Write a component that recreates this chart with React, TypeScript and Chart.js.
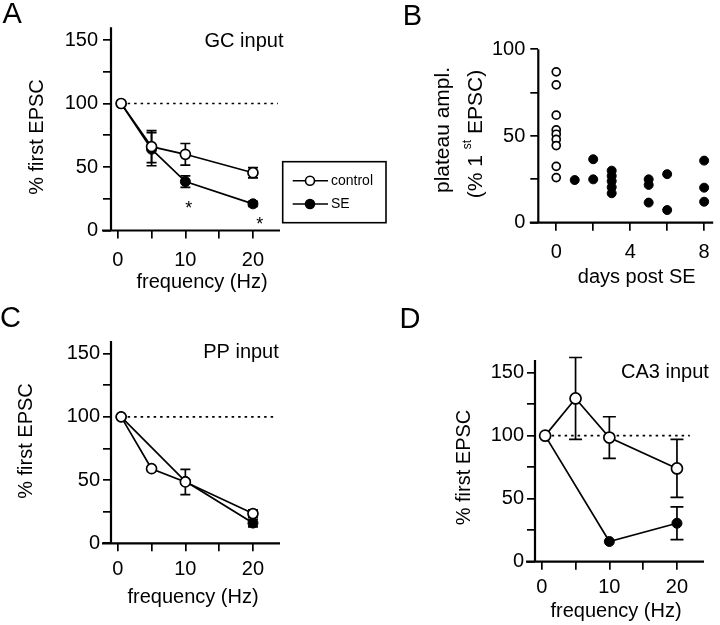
import React, { useEffect, useRef } from 'react';
import { Chart, registerables } from 'chart.js';

Chart.register(...registerables);

const FONT = "'Liberation Sans', Arial, Helvetica, sans-serif";
const W = 720;
const H = 625;

// ---------- shared axes ----------
const FREQ = [0.5, 5, 10, 20];
const FREQ_TICKS = [0, 5, 10, 15, 20];
const FREQ_LABELS = [0, 10, 20];
const EPSC_TICKS = [0, 25, 50, 75, 100, 125, 150];
const EPSC_LABELS = [0, 50, 100, 150];
const DAY_TICKS = [0, 2, 4, 6, 8];
const DAY_LABELS = [0, 4, 8];
const PLATEAU_TICKS = [0, 25, 50, 75, 100];
const PLATEAU_LABELS = [0, 50, 100];
const REF_LEVEL = 100;
const LEGEND_LABELS = ['control', 'SE'];

// ---------- panel A: GC input ----------
const A_CONTROL = [100, 66, 60, 45.5];
const A_CONTROL_ERR = [0, 12.6, 8.5, 4];
const A_SE = [100, 64, 38.5, 21];
const A_SE_ERR = [0, 13, 4.5, 2];
const A_REF_X = [0.5, 23.7];
const A_STAR_X = [10.5, 21];
const A_STAR_Y = [21.5, 8.5];

// ---------- panel B: plateau amplitude vs days ----------
const B_CONTROL_DAYS = [0, 0, 0, 0, 0, 0, 0, 0, 0];
const B_CONTROL_VALUES = [87, 79.5, 62, 53.5, 51, 48, 44.5, 32.5, 26];
const B_SE_DAYS = [1, 2, 2, 3, 3, 3, 3, 3, 5, 5, 5, 6, 6, 8, 8, 8];
const B_SE_VALUES = [24.6, 36.6, 25, 30, 27, 24, 20.5, 17, 25, 21.8, 11.6, 28, 7.3, 35.8, 20.2, 12.1];

// ---------- panel C: PP input ----------
const C_CONTROL = [100, 59, 48.5, 23.5];
const C_CONTROL_ERR = [0, 0, 10, 3];
const C_SE_FREQ = [0.5, 10, 20];
const C_SE = [100, 49, 16];
const C_SE_ERR = [0, 0, 3];
const C_REF_X = [0.5, 23.3];

// ---------- panel D: CA3 input ----------
const D_CONTROL = [100, 129.5, 98.5, 74];
const D_CONTROL_ERR = [0, 32.5, 16.5, 23];
const D_SE_FREQ = [0.5, 10, 20];
const D_SE = [100, 16, 30.5];
const D_SE_ERR = [0, 0, 13];
const D_REF_X = [0.5, 21.9];

// ---------- helpers ----------
const pts = (xs: number[], ys: number[]) => xs.map((x, i) => ({ x, y: ys[i] }));

function series(label: string, xs: number[], ys: number[], filled: boolean, radius: number, showLine = true) {
  return {
    label,
    data: pts(xs, ys),
    showLine,
    borderColor: '#000',
    borderWidth: 1.7,
    tension: 0,
    fill: false,
    pointRadius: radius,
    pointHoverRadius: radius,
    pointStyle: 'circle',
    pointBackgroundColor: filled ? '#000' : '#fff',
    pointBorderColor: '#000',
    pointBorderWidth: filled ? 1 : 1.7,
    clip: false,
  };
}

function refLine(xs: number[]) {
  return {
    label: 'ref',
    data: pts(xs, xs.map(() => REF_LEVEL)),
    showLine: true,
    borderColor: '#000',
    borderWidth: 1.6,
    borderDash: [2.5, 4],
    pointRadius: 0,
    pointHoverRadius: 0,
    fill: false,
    clip: false,
  };
}

type TextPart = { text: string; size: number; rise: number };
type Txt = { text?: string; parts?: TextPart[]; x: number; y: number; size: number; align?: string; rotate?: boolean };

const FREQ_TITLE = 'frequency (Hz)';
const EPSC_TITLE = '% first EPSC';

const PANELS: any[] = [
  {
    area: { left: 111, top: 27.3, right: 280, bottom: 230.5 },
    axisExt: 9,
    x: { min: -1, max: 24, ticks: FREQ_TICKS, labels: FREQ_LABELS, pad: 10 },
    y: { min: 0, max: 160, ticks: EPSC_TICKS, labels: EPSC_LABELS, pad: 5 },
    datasets: () => [
      series(LEGEND_LABELS[0], FREQ, A_CONTROL, false, 5),
      series(LEGEND_LABELS[1], FREQ, A_SE, true, 5),
      refLine(A_REF_X),
    ],
    errors: [
      { xs: FREQ, ys: A_CONTROL, errs: A_CONTROL_ERR, cap: 5 },
      { xs: FREQ, ys: A_SE, errs: A_SE_ERR, cap: 5 },
    ],
    stars: { xs: A_STAR_X, ys: A_STAR_Y, size: 18 },
    texts: [
      { text: 'A', x: 2.5, y: 23.3, size: 29, align: 'left' },
      { text: 'GC input', x: 244, y: 46.7, size: 20 },
      { text: EPSC_TITLE, x: 43, y: 137, size: 20, rotate: true },
      { text: FREQ_TITLE, x: 202, y: 288, size: 20 },
    ],
    legend: { left: 282.7, top: 161.7, right: 386, bottom: 222.7, rowY: [180.7, 204], lineX0: 292.7, lineX1: 328, cx: 310, textX: 331, size: 14 },
  },
  {
    area: { left: 538.3, top: 49.3, right: 718, bottom: 222.7 },
    axisExt: 8.5,
    x: { min: -0.97, max: 8.49, ticks: DAY_TICKS, labels: DAY_LABELS, pad: 10 },
    y: { min: 0, max: 100, ticks: PLATEAU_TICKS, labels: PLATEAU_LABELS, pad: 5 },
    datasets: () => [
      series('control', B_CONTROL_DAYS, B_CONTROL_VALUES, false, 4, false),
      series('SE', B_SE_DAYS, B_SE_VALUES, true, 4.5, false),
    ],
    errors: [],
    texts: [
      { text: 'B', x: 402.7, y: 25, size: 29, align: 'left' },
      { text: 'plateau ampl.', x: 449, y: 130, size: 21, rotate: true },
      {
        parts: [
          { text: '(% 1 ', size: 21, rise: 0 },
          { text: 'st', size: 12, rise: 11 },
          { text: ' EPSC)', size: 21, rise: 0 },
        ],
        x: 482, y: 134, size: 21, rotate: true,
      },
      { text: 'days post SE', x: 636.7, y: 282.5, size: 20 },
    ],
  },
  {
    area: { left: 111, top: 341, right: 280, bottom: 543.3 },
    axisExt: 9,
    x: { min: -1, max: 24, ticks: FREQ_TICKS, labels: FREQ_LABELS, pad: 6 },
    y: { min: 0, max: 160, ticks: EPSC_TICKS, labels: EPSC_LABELS, pad: 3 },
    datasets: () => [
      series('control', FREQ, C_CONTROL, false, 5),
      series('SE', C_SE_FREQ, C_SE, true, 5),
      refLine(C_REF_X),
    ],
    errors: [
      { xs: FREQ, ys: C_CONTROL, errs: C_CONTROL_ERR, cap: 5 },
      { xs: C_SE_FREQ, ys: C_SE, errs: C_SE_ERR, cap: 5 },
    ],
    texts: [
      { text: 'C', x: 0, y: 326.7, size: 29, align: 'left' },
      { text: 'PP input', x: 241, y: 358.3, size: 20 },
      { text: EPSC_TITLE, x: 31.5, y: 441, size: 20, rotate: true },
      { text: FREQ_TITLE, x: 193, y: 603.3, size: 20 },
    ],
  },
  {
    area: { left: 535, top: 360, right: 704, bottom: 561.7 },
    axisExt: 9,
    x: { min: -1, max: 24, ticks: FREQ_TICKS, labels: FREQ_LABELS, pad: 6 },
    y: { min: 0, max: 160, ticks: EPSC_TICKS, labels: EPSC_LABELS, pad: 3 },
    datasets: () => [
      series('control', FREQ, D_CONTROL, false, 5.5),
      series('SE', D_SE_FREQ, D_SE, true, 5),
      refLine(D_REF_X),
    ],
    errors: [
      { xs: FREQ, ys: D_CONTROL, errs: D_CONTROL_ERR, cap: 6.5 },
      { xs: D_SE_FREQ, ys: D_SE, errs: D_SE_ERR, cap: 6.5 },
    ],
    texts: [
      { text: 'D', x: 399.5, y: 328, size: 29, align: 'left' },
      { text: 'CA3 input', x: 665, y: 378.3, size: 20 },
      { text: EPSC_TITLE, x: 470, y: 467.5, size: 20, rotate: true },
      { text: FREQ_TITLE, x: 616, y: 617, size: 20 },
    ],
  },
];

function drawText(ctx: CanvasRenderingContext2D, t: Txt) {
  ctx.save();
  ctx.fillStyle = '#000';
  ctx.textBaseline = 'alphabetic';
  ctx.textAlign = 'left';
  ctx.translate(t.x, t.y);
  if (t.rotate) ctx.rotate(-Math.PI / 2);
  const parts: TextPart[] = t.parts ?? [{ text: t.text ?? '', size: t.size, rise: 0 }];
  const widths = parts.map((p) => {
    ctx.font = `${p.size}px ${FONT}`;
    return ctx.measureText(p.text).width;
  });
  const total = widths.reduce((a, b) => a + b, 0);
  const align = t.align ?? 'center';
  let start = align === 'center' ? -total / 2 : align === 'right' ? -total : 0;
  parts.forEach((p, i) => {
    ctx.font = `${p.size}px ${FONT}`;
    ctx.fillText(p.text, start, -p.rise);
    start += widths[i];
  });
  ctx.restore();
}

function decorPlugin(p: any) {
  return {
    id: 'decor',
    beforeDatasetsDraw(chart: any) {
      const { ctx, chartArea: a, scales } = chart;
      const xs = scales.x;
      const ys = scales.y;
      ctx.save();
      ctx.strokeStyle = '#000';
      ctx.lineWidth = 2.2;
      ctx.beginPath();
      ctx.moveTo(a.left, a.top);
      ctx.lineTo(a.left, a.bottom);
      ctx.moveTo(a.left - p.axisExt, a.bottom);
      ctx.lineTo(a.right, a.bottom);
      ctx.stroke();
      ctx.lineWidth = 1.7;
      for (const e of p.errors) {
        e.xs.forEach((xv: number, i: number) => {
          const err = e.errs[i];
          if (!err) return;
          const px = xs.getPixelForValue(xv);
          const top = ys.getPixelForValue(e.ys[i] + err);
          const bot = ys.getPixelForValue(e.ys[i] - err);
          ctx.beginPath();
          ctx.moveTo(px, top);
          ctx.lineTo(px, bot);
          ctx.moveTo(px - e.cap, top);
          ctx.lineTo(px + e.cap, top);
          ctx.moveTo(px - e.cap, bot);
          ctx.lineTo(px + e.cap, bot);
          ctx.stroke();
        });
      }
      ctx.restore();
    },
    afterDraw(chart: any) {
      const { ctx, scales } = chart;
      for (const t of p.texts) drawText(ctx, t);
      if (p.stars) {
        const s = p.stars;
        s.xs.forEach((xv: number, i: number) => {
          const px = scales.x.getPixelForValue(xv);
          const py = scales.y.getPixelForValue(s.ys[i]);
          drawText(ctx, { text: '*', x: px, y: py + 0.58 * s.size, size: s.size });
        });
      }
      if (p.legend) {
        const L = p.legend;
        ctx.save();
        ctx.strokeStyle = '#000';
        ctx.lineWidth = 1.6;
        ctx.strokeRect(L.left, L.top, L.right - L.left, L.bottom - L.top);
        const ds = chart.data.datasets;
        L.rowY.forEach((y: number, i: number) => {
          const d = ds[i];
          ctx.beginPath();
          ctx.moveTo(L.lineX0, y);
          ctx.lineTo(L.lineX1, y);
          ctx.stroke();
          ctx.beginPath();
          ctx.arc(L.cx, y, 4.5, 0, Math.PI * 2);
          ctx.fillStyle = d.pointBackgroundColor;
          ctx.fill();
          ctx.stroke();
          ctx.fillStyle = '#000';
          ctx.font = `${L.size}px ${FONT}`;
          ctx.textBaseline = 'middle';
          ctx.textAlign = 'left';
          ctx.fillText(d.label, L.textX, y);
        });
        ctx.restore();
      }
    },
  };
}

const X_BOX = 55;
const Y_BOX = 60;

function buildOptions(p: any) {
  const tickFont = { family: FONT, size: 20 };
  const grid = { display: true, drawOnChartArea: false, drawTicks: true, tickLength: 8, lineWidth: 1.7, color: '#000' };
  return {
    responsive: false,
    maintainAspectRatio: false,
    animation: false,
    events: [],
    layout: {
      padding: {
        left: p.area.left - Y_BOX,
        top: p.area.top,
        right: W - p.area.right,
        bottom: Math.max(0, H - p.area.bottom - X_BOX),
      },
    },
    plugins: { legend: { display: false }, tooltip: { enabled: false }, title: { display: false } },
    scales: {
      x: {
        type: 'linear',
        position: 'bottom',
        min: p.x.min,
        max: p.x.max,
        afterFit: (s: any) => { s.height = Math.min(X_BOX, H - p.area.bottom); },
        afterBuildTicks: (s: any) => { s.ticks = p.x.ticks.map((v: number) => ({ value: v })); },
        grid,
        border: { display: false },
        ticks: {
          autoSkip: false,
          maxRotation: 0,
          minRotation: 0,
          padding: p.x.pad,
          color: '#000',
          font: tickFont,
          callback: (v: number) => (p.x.labels.includes(v) ? String(v) : ''),
        },
      },
      y: {
        type: 'linear',
        position: 'left',
        min: p.y.min,
        max: p.y.max,
        afterFit: (s: any) => { s.width = Y_BOX; },
        afterBuildTicks: (s: any) => { s.ticks = p.y.ticks.map((v: number) => ({ value: v })); },
        grid,
        border: { display: false },
        ticks: {
          autoSkip: false,
          padding: p.y.pad,
          color: '#000',
          font: tickFont,
          callback: (v: number) => (p.y.labels.includes(v) ? String(v) : ''),
        },
      },
    },
  };
}

function PanelChart({ spec }: { spec: any }) {
  const ref = useRef<HTMLCanvasElement>(null);
  useEffect(() => {
    if (!ref.current) return;
    const chart = new Chart(ref.current, {
      type: 'scatter',
      data: { datasets: spec.datasets() },
      options: buildOptions(spec) as any,
      plugins: [decorPlugin(spec)],
    } as any);
    return () => chart.destroy();
  }, [spec]);
  return (
    <canvas
      ref={ref}
      width={W}
      height={H}
      style={{ position: 'absolute', left: 0, top: 0, width: W, height: H }}
    />
  );
}

export default function App() {
  return (
    <div style={{ position: 'absolute', left: 0, top: 0, width: W, height: H, background: '#fff', overflow: 'hidden' }}>
      {PANELS.map((p, i) => (
        <PanelChart key={i} spec={p} />
      ))}
    </div>
  );
}
